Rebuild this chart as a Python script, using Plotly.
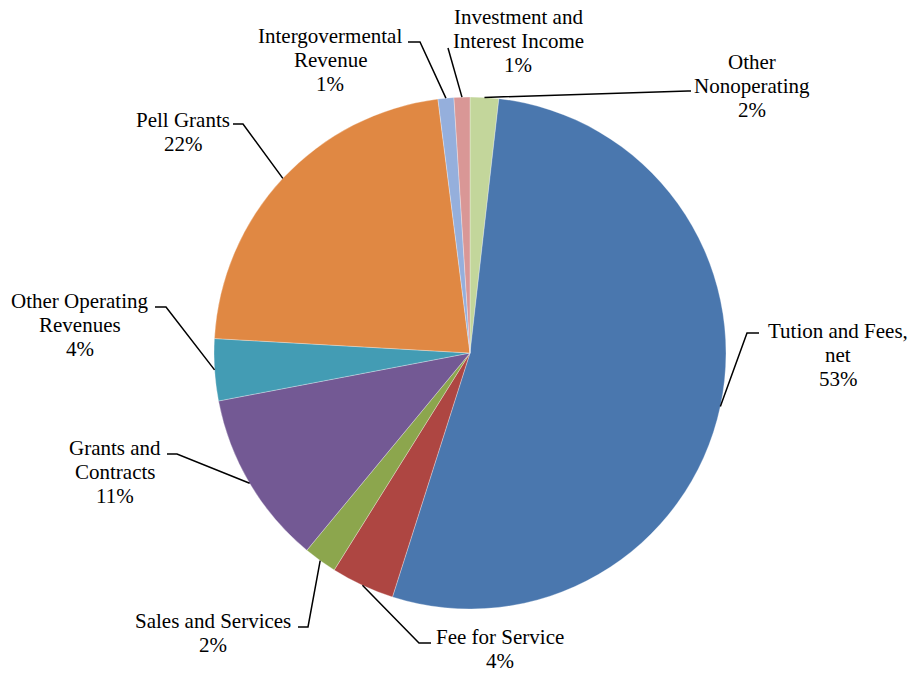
import math
import plotly.graph_objects as go

# ---- data ----
categories = ["Other Nonoperating", "Tution and Fees, net", "Fee for Service",
              "Sales and Services", "Grants and Contracts", "Other Operating Revenues",
              "Pell Grants", "Intergovermental Revenue", "Investment and Interest Income"]
values = [1.8, 53.1, 4.0, 2.1, 11.0, 3.9, 22.1, 1.0, 1.0]
label_lines = [["Other", "Nonoperating"], ["Tution and Fees,", "net"], ["Fee for Service"],
               ["Sales and Services"], ["Grants and", "Contracts"], ["Other Operating", "Revenues"],
               ["Pell Grants"], ["Intergovermental", "Revenue"], ["Investment and", "Interest Income"]]
colors = ["#C3D69B", "#4A77AE", "#AE4642", "#8CA64D", "#735994", "#439CB4",
          "#E08843", "#95AFDC", "#D99796"]

# ---- layout (pixels) ----
W, H = 911, 673
CX, CY, R = 470, 353, 256
# label block centre x, first-line y centre
label_pos = [(752, 62), (838, 331), (500, 637), (213, 621), (115, 448),
             (80, 301), (183, 120), (330, 36), (518, 17)]
line_gap = 24
# leader line elbow and end points
elbows = [(688, 91), (747, 333), (419, 643), (308, 627), (177, 454),
          (166, 307), (243, 124), (420, 42), (448, 48)]
ends = [(691, 91), (759, 333), (431, 643), (298, 627), (167, 454),
        (155, 307), (233, 124), (408, 42), (448, 48)]

def px(x):
    return x / W

def py(y):
    return 1 - y / H

fig = go.Figure(go.Pie(
    labels=categories, values=values, sort=False, direction="clockwise",
    rotation=0, textinfo="none", hoverinfo="label+percent",
    marker=dict(colors=colors, line=dict(color="rgba(255,255,255,0.5)", width=0.6)),
    domain=dict(x=[px(CX - R), px(CX + R)], y=[py(CY + R), py(CY - R)]),
    showlegend=False,
))

total = sum(values)
cum = 0.0
annotations = []
shapes = []
for i, v in enumerate(values):
    mid = (cum + v / 2) / total * 2 * math.pi
    cum += v
    ax = CX + R * math.sin(mid)
    ay = CY - R * math.cos(mid)
    ex, ey = elbows[i]
    tx, ty = ends[i]
    shapes.append(dict(type="path", xref="paper", yref="paper",
                       path=f"M {px(ax)} {py(ay)} L {px(ex)} {py(ey)} L {px(tx)} {py(ty)}",
                       line=dict(color="black", width=1.5)))
    lines = label_lines[i] + [f"{round(v / total * 100)}%"]
    lx, ly = label_pos[i]
    for k, t in enumerate(lines):
        annotations.append(dict(x=px(lx), y=py(ly + k * line_gap), xref="paper", yref="paper",
                                text=t, showarrow=False, xanchor="center", yanchor="middle",
                                font=dict(family="Liberation Serif", size=21, color="black")))

fig.update_layout(width=W, height=H, margin=dict(l=0, r=0, t=0, b=0),
                  paper_bgcolor="white", plot_bgcolor="white",
                  annotations=annotations, shapes=shapes)
fig.write_html("out.html")
